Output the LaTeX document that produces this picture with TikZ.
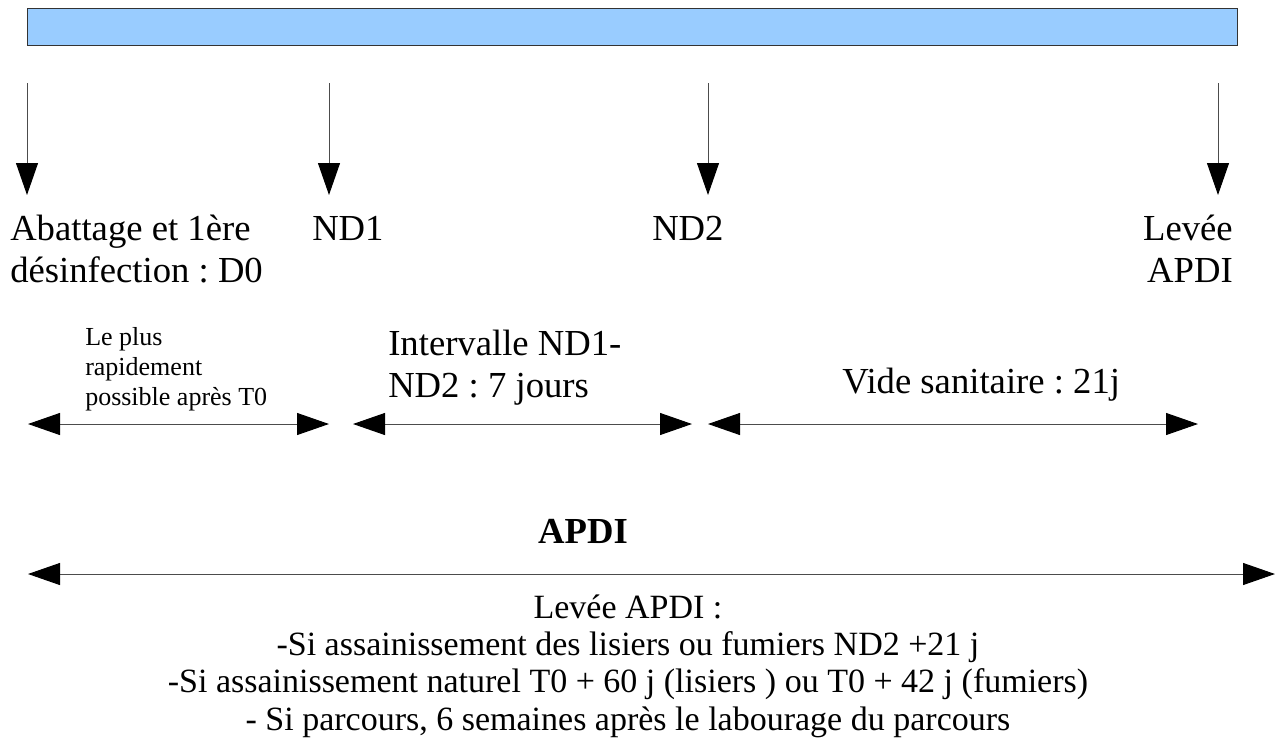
\documentclass[tikz,border=0pt]{standalone}
\usepackage{fontspec}
\setmainfont{Liberation Serif}
\usetikzlibrary{positioning,arrows.meta}
\frenchspacing

\begin{document}
\begin{tikzpicture}[x=0.75pt,y=-0.75pt,
			every node/.style={inner sep=0pt, font=\fontsize{27.5}{31.5}\selectfont},
			smalltxt/.style={font=\fontsize{19.5}{22.5}\selectfont},
			bottomtxt/.style={font=\fontsize{25.5}{28}\selectfont},
			timeline/.style={draw=black!80, fill={rgb,255:red,153;green,204;blue,255}, line width=0.75pt},
			conn/.style={draw=black!70, line width=0.75pt},
			>={Triangle[length=24pt,width=16.5pt,color=black]}]
			
			\useasboundingbox (0,0) rectangle (1278,744);
			
			\node[timeline, minimum width=907.5pt, minimum height=27.75pt] (bar) at (632,26.5) {};
			
			% jalons
			\coordinate (d0a) at (27,83);   \coordinate (d0b) at (27,195);
			\coordinate (nd1a) at (329,83); \coordinate (nd1b) at (329,195);
			\coordinate (nd2a) at (708,83); \coordinate (nd2b) at (708,195);
			\coordinate (leva) at (1218,83); \coordinate (levb) at (1218,195);
			
			\draw[conn,->] (d0a)--(d0b);
			\draw[conn,->] (nd1a)--(nd1b);
			\draw[conn,->] (nd2a)--(nd2b);
			\draw[conn,->] (leva)--(levb);
			
			\node[anchor=base west, align=left] (d0) at (10,282) {Abattage et 1ère\\désinfection : D0};
			\node[anchor=base west] (nd1) at (312,240) {ND1};
			\node[anchor=base west] (nd2) at (652,240) {ND2};
			\node[anchor=base east, align=right] (lev) at (1233,282) {Levée\\APDI};
			
			% intervalles
			\coordinate (i1a) at (28,424);  \coordinate (i1b) at (329,424);
			\coordinate (i2a) at (353,424); \coordinate (i2b) at (692,424);
			\coordinate (i3a) at (708,424); \coordinate (i3b) at (1198,424);
			
			\draw[conn,<->] (i1a)--(i1b);
			\draw[conn,<->] (i2a)--(i2b);
			\draw[conn,<->] (i3a)--(i3b);
			
			\node[smalltxt, anchor=base west, align=left] (rapide) at (85,405) {Le plus\\rapidement\\possible après T0};
			\node[anchor=base west, align=left] (interv) at (388,397) {Intervalle ND1-\\ND2 : 7 jours};
			\node[anchor=base west] (vide) at (842,393) {Vide sanitaire : 21j};
			
			% APDI
			\node[anchor=base] (apdi) at (583,543) {\textbf{APDI}};
			\coordinate (apdia) at (28,574); \coordinate (apdib) at (1275,574);
			\draw[conn,<->] (apdia)--(apdib);
			
			\node[bottomtxt, anchor=base, align=center] (levee) at (628,730) {Levée APDI :\\-Si assainissement des lisiers ou fumiers ND2 +21 j\\-Si assainissement naturel T0 + 60 j (lisiers ) ou T0 + 42 j (fumiers)\\- Si parcours, 6 semaines après le labourage du parcours};
			
		\end{tikzpicture}
\end{document}
